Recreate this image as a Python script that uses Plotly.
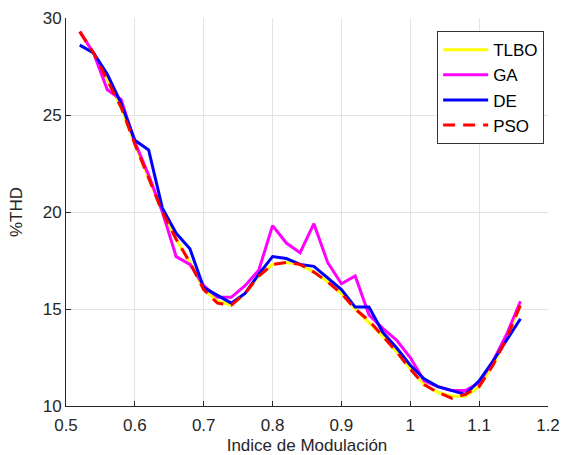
import plotly.graph_objects as go

# Modulation index sweep
m_index = [0.52, 0.54, 0.56, 0.58, 0.60, 0.62, 0.64, 0.66, 0.68, 0.70, 0.72,
           0.74, 0.76, 0.78, 0.80, 0.82, 0.84, 0.86, 0.88, 0.90, 0.92, 0.94,
           0.96, 0.98, 1.00, 1.02, 1.04, 1.06, 1.08, 1.10, 1.12, 1.14, 1.16]

# %THD obtained by each optimisation algorithm
thd_tlbo = [29.3, 28.2, 26.8, 25.4, 23.5, 21.8, 20.0, 18.6, 17.4, 16.0, 15.4,
            15.2, 15.8, 16.7, 17.3, 17.4, 17.3, 16.9, 16.4, 15.8, 15.0, 14.3,
            13.6, 12.8, 11.9, 11.1, 10.7, 10.5, 10.5, 11.0, 12.1, 13.5, 15.2]
thd_ga = [29.3, 28.2, 26.3, 25.8, 23.6, 21.9, 20.0, 17.7, 17.3, 16.2, 15.6,
          15.6, 16.2, 17.0, 19.3, 18.4, 17.9, 19.4, 17.4, 16.3, 16.7, 14.7,
          14.0, 13.4, 12.5, 11.3, 11.0, 10.8, 10.8, 11.2, 12.3, 13.7, 15.4]
thd_de = [28.6, 28.2, 27.1, 25.6, 23.7, 23.2, 20.2, 18.9, 18.1, 16.1, 15.7,
          15.3, 15.8, 16.8, 17.7, 17.6, 17.3, 17.2, 16.6, 16.0, 15.1, 15.1,
          13.8, 13.0, 12.1, 11.4, 11.0, 10.8, 10.6, 11.3, 12.3, 13.4, 14.5]
thd_pso = [29.3, 28.2, 26.8, 25.4, 23.5, 21.8, 20.0, 18.6, 17.4, 16.0, 15.3,
           15.2, 15.8, 16.7, 17.3, 17.4, 17.3, 16.9, 16.4, 15.8, 15.0, 14.4,
           13.6, 12.8, 11.9, 11.1, 10.7, 10.4, 10.6, 11.0, 12.1, 13.5, 15.2]

x_ticks = [0.5, 0.6, 0.7, 0.8, 0.9, 1.0, 1.1, 1.2]
x_tick_text = ["0.5", "0.6", "0.7", "0.8", "0.9", "1", "1.1", "1.2"]
y_ticks = [10, 15, 20, 25, 30]

fig = go.Figure()
series = [
    ("TLBO", thd_tlbo, "#FFFF00", "solid"),
    ("GA", thd_ga, "#FF00FF", "solid"),
    ("DE", thd_de, "#0000FF", "solid"),
    ("PSO", thd_pso, "#FF0000", "12px,8px"),
]
for name, vals, color, dash in series:
    fig.add_trace(go.Scatter(
        x=m_index, y=vals, name=name, mode="lines",
        line=dict(color=color, width=3, dash=dash),
    ))

axis_font = dict(family="Liberation Sans, Arial, sans-serif", size=17, color="#262626")
title_font = dict(family="Liberation Sans, Arial, sans-serif", size=17, color="#262626")
fig.update_layout(
    width=569, height=455,
    margin=dict(l=66, r=21, t=18, b=49),
    paper_bgcolor="white", plot_bgcolor="white",
    font=dict(family="Liberation Sans, Arial, sans-serif", size=15, color="#262626"),
    showlegend=True,
    legend=dict(
        x=0.77, y=0.966, xanchor="left", yanchor="top",
        bordercolor="#333333", borderwidth=1, bgcolor="white",
        font=dict(size=17, color="#000000"),
        itemwidth=45, tracegroupgap=0,
    ),
    xaxis=dict(
        range=[0.5, 1.2], tickvals=x_ticks, ticktext=x_tick_text,
        showgrid=True, gridcolor="#e3e3e3", gridwidth=1,
        showline=True, linecolor="#262626", linewidth=1,
        ticks="inside", ticklen=5, tickcolor="#262626",
        tickfont=axis_font, zeroline=False, ticklabelstandoff=4,
        automargin=False,
        title=dict(text="Indice de Modulación", font=title_font),
    ),
    yaxis=dict(
        range=[10, 30], tickvals=y_ticks,
        showgrid=True, gridcolor="#e3e3e3", gridwidth=1,
        showline=True, linecolor="#262626", linewidth=1,
        ticks="inside", ticklen=5, tickcolor="#262626",
        tickfont=axis_font, zeroline=False, automargin=False,
        title=dict(text="%THD", font=title_font),
    ),
)

fig.write_html("out.html")
